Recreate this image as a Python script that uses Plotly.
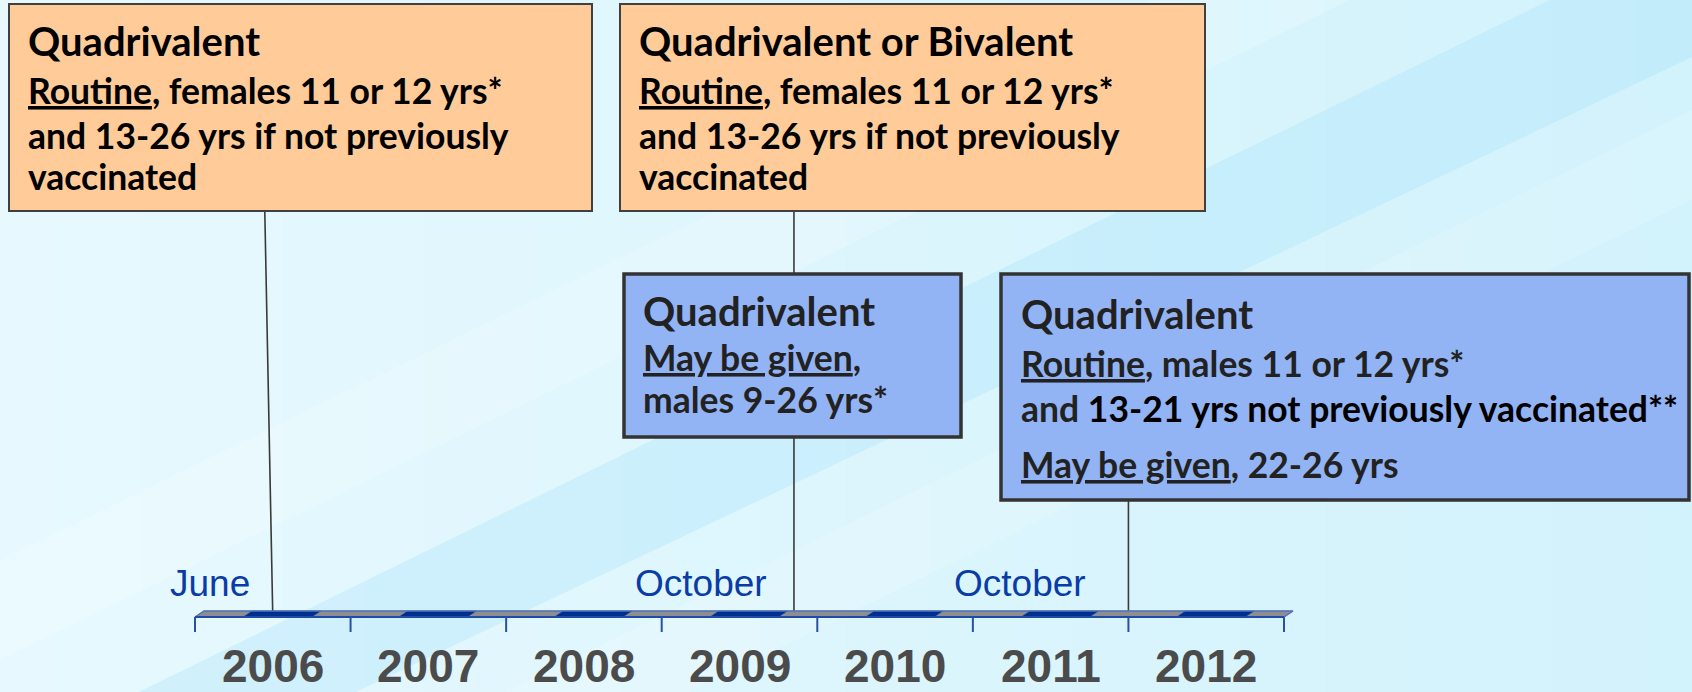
import plotly.graph_objects as go

W, H = 1692, 692

# ---------------- data ----------------
years = [2006, 2007, 2008, 2009, 2010, 2011, 2012]
year_labels = ["2006", "2007", "2008", "2009", "2010", "2011", "2012"]
event_dates = [2006.5, 2009.85, 2012.0]
event_months = ["June", "October", "October"]

box_titles = ["Quadrivalent", "Quadrivalent or Bivalent", "Quadrivalent", "Quadrivalent"]
U = '<span style="text-decoration:underline">%s</span>'
box_lines = [
    [U % "Routine" + ", females 11 or 12 yrs*", "and 13-26 yrs if not previously", "vaccinated"],
    [U % "Routine" + ", females 11 or 12 yrs*", "and 13-26 yrs if not previously", "vaccinated"],
    [U % "May be given" + ",", "males 9-26 yrs*"],
    [U % "Routine" + ", males 11 or 12 yrs*",
     'and <span style="color:#000000">13-21 yrs not previously vaccinated**</span>',
     U % "May be given" + ", 22-26 yrs"],
]

# ---------------- layout constants (pixels) ----------------
TICK0_PX, TICK_END_PX = 195, 1284
PXY = (TICK_END_PX - TICK0_PX) / 7.0
X0 = years[0] - TICK0_PX / PXY


def X(px):
    return X0 + px / PXY


def PX(x):
    return (x - X0) * PXY


boxes = [  # x0, y0, x1, y1
    (9, 4, 592, 211),
    (620, 4, 1205, 211),
    (624, 274, 961, 437),
    (1001, 274, 1689, 500),
]
box_fill = ["#ffcc99", "#ffcc99", "#92b4f5", "#92b4f5"]
box_border = ["#404040", "#404040", "#333333", "#333333"]
box_bw = [2, 2, 3.5, 3.5]
text_color = ["#000000", "#000000", "#222222", "#222222"]
text_x = [26, 637, 641, 1019]
title_y = [41, 41, 311, 314]
line_ys = [[90, 135, 176], [90, 135, 176], [357, 399], [363, 408, 464]]
connector_top_shift = [-8, 0, 0]
connector_top_box = [0, 1, 3]
BAR_TOP, BAR_BOT = 611, 617
SLANT = 9
STRIPE_A, STRIPE_B = 0.31, 0.75

fig = go.Figure()

# ---------------- background ----------------
shapes = []
N = 60
c0 = (231, 249, 254)
c1 = (210, 242, 252)
for i in range(N):
    t = i / (N - 1)
    col = tuple(int(round(c0[k] + (c1[k] - c0[k]) * t)) for k in range(3))
    shapes.append(dict(type="rect", xref="paper", yref="paper", x0=i / N, x1=(i + 1) / N + 0.002,
                       y0=0, y1=1, fillcolor="rgb(%d,%d,%d)" % col, line=dict(width=0), layer="below"))


def ppath(pts):
    return "M " + " L ".join("%f,%f" % (x / W, 1 - y / H) for x, y in pts) + " Z"


# diagonal streaks
shapes.append(dict(type="path", xref="paper", yref="paper", layer="below",
                   path=ppath([(0, 760), (1550, 0), (1692, 0), (1692, 57), (0, 861)]),
                   fillcolor="rgba(170,225,248,0.35)", line=dict(width=0)))
shapes.append(dict(type="path", xref="paper", yref="paper", layer="below",
                   path=ppath([(0, 560), (1150, 0), (1350, 0), (0, 660)]),
                   fillcolor="rgba(255,255,255,0.18)", line=dict(width=0)))
shapes.append(dict(type="path", xref="paper", yref="paper", layer="below",
                   path=ppath([(0, 940), (1692, 110), (1692, 200), (0, 1030)]),
                   fillcolor="rgba(255,255,255,0.15)", line=dict(width=0)))

# ---------------- connector lines ----------------
for k, ed in enumerate(event_dates):
    b = boxes[connector_top_box[k]]
    fig.add_trace(go.Scatter(
        x=[X(PX(ed) + connector_top_shift[k]), ed], y=[b[3], BAR_BOT],
        mode="lines", line=dict(color="#3a3a3a", width=1.6), hoverinfo="skip", showlegend=False))

# ---------------- timeline bar ----------------
sl = SLANT / PXY
gx, gy, bx, by = [], [], [], []


def poly(xs, ys, a, b):
    xs += [a, b, b + sl, a + sl, a, None]
    ys += [BAR_BOT, BAR_BOT, BAR_TOP, BAR_TOP, BAR_BOT, None]


for y in years:
    poly(gx, gy, y, y + STRIPE_A)
    poly(bx, by, y + STRIPE_A, y + STRIPE_B)
    poly(gx, gy, y + STRIPE_B, y + 1)
fig.add_trace(go.Scatter(x=gx, y=gy, fill="toself", fillcolor="#8e8e92", mode="lines",
                         line=dict(width=0.5, color="#8e8e92"), hoverinfo="skip", showlegend=False))
fig.add_trace(go.Scatter(x=bx, y=by, fill="toself", fillcolor="#00308f", mode="lines",
                         line=dict(width=0.5, color="#00308f"), hoverinfo="skip", showlegend=False))
# outline edges
fig.add_trace(go.Scatter(x=[years[0], years[0] + sl, years[-1] + 1 + sl, years[-1] + 1],
                         y=[BAR_BOT, BAR_TOP, BAR_TOP, BAR_BOT], mode="lines",
                         line=dict(color="#4f72bb", width=1.5), hoverinfo="skip", showlegend=False))
fig.add_trace(go.Scatter(x=[years[0], years[-1] + 1], y=[BAR_BOT, BAR_BOT], mode="lines",
                         line=dict(color="#1f4ca6", width=2), hoverinfo="skip", showlegend=False))
# ticks at year boundaries
tx, ty = [], []
for y in years + [years[-1] + 1]:
    tx += [y, y, None]
    ty += [BAR_BOT, 632, None]
fig.add_trace(go.Scatter(x=tx, y=ty, mode="lines", line=dict(color="#2552a8", width=2),
                         hoverinfo="skip", showlegend=False))

# ---------------- boxes ----------------
for i, (x0, y0, x1, y1) in enumerate(boxes):
    shapes.append(dict(type="rect", xref="x", yref="y", x0=X(x0), x1=X(x1), y0=y0, y1=y1,
                       fillcolor=box_fill[i], line=dict(color=box_border[i], width=box_bw[i]),
                       layer="above"))

ann = []
for i in range(len(boxes)):
    ann.append(dict(x=X(text_x[i]), y=title_y[i], xref="x", yref="y", text=box_titles[i],
                    showarrow=False, xanchor="left", yanchor="middle",
                    font=dict(family="Lato", size=40, color=text_color[i], weight="bold")))
    for t, yy in zip(box_lines[i], line_ys[i]):
        ann.append(dict(x=X(text_x[i]), y=yy, xref="x", yref="y", text=t,
                        showarrow=False, xanchor="left", yanchor="middle",
                        font=dict(family="Lato", size=35.5, color=text_color[i], weight="bold")))

# month labels
month_shift = [-21, -25, -40]
for ed, m, s in zip(event_dates, event_months, month_shift):
    ann.append(dict(x=ed, y=583, xref="x", yref="y", text=m, showarrow=False,
                    xanchor="right", yanchor="middle", xshift=s,
                    font=dict(family="Liberation Sans", size=37, color="#0a3ca8")))

# year labels
for y, lab in zip(years, year_labels):
    ann.append(dict(x=y + 0.5, y=666, xref="x", yref="y", text=lab, showarrow=False,
                    xanchor="center", yanchor="middle",
                    font=dict(family="Liberation Sans", size=46, color="#4b4b4b", weight="bold")))

fig.update_layout(
    width=W, height=H, margin=dict(l=0, r=0, t=0, b=0),
    paper_bgcolor="#dff6fd", plot_bgcolor="rgba(0,0,0,0)",
    xaxis=dict(range=[X(0), X(W)], visible=False, fixedrange=True),
    yaxis=dict(range=[H, 0], visible=False, fixedrange=True),
    shapes=shapes, annotations=ann, showlegend=False,
)

fig.write_html("out.html", config={"displayModeBar": False},
               post_script="document.body.style.margin='0';document.body.style.overflow='hidden';")
